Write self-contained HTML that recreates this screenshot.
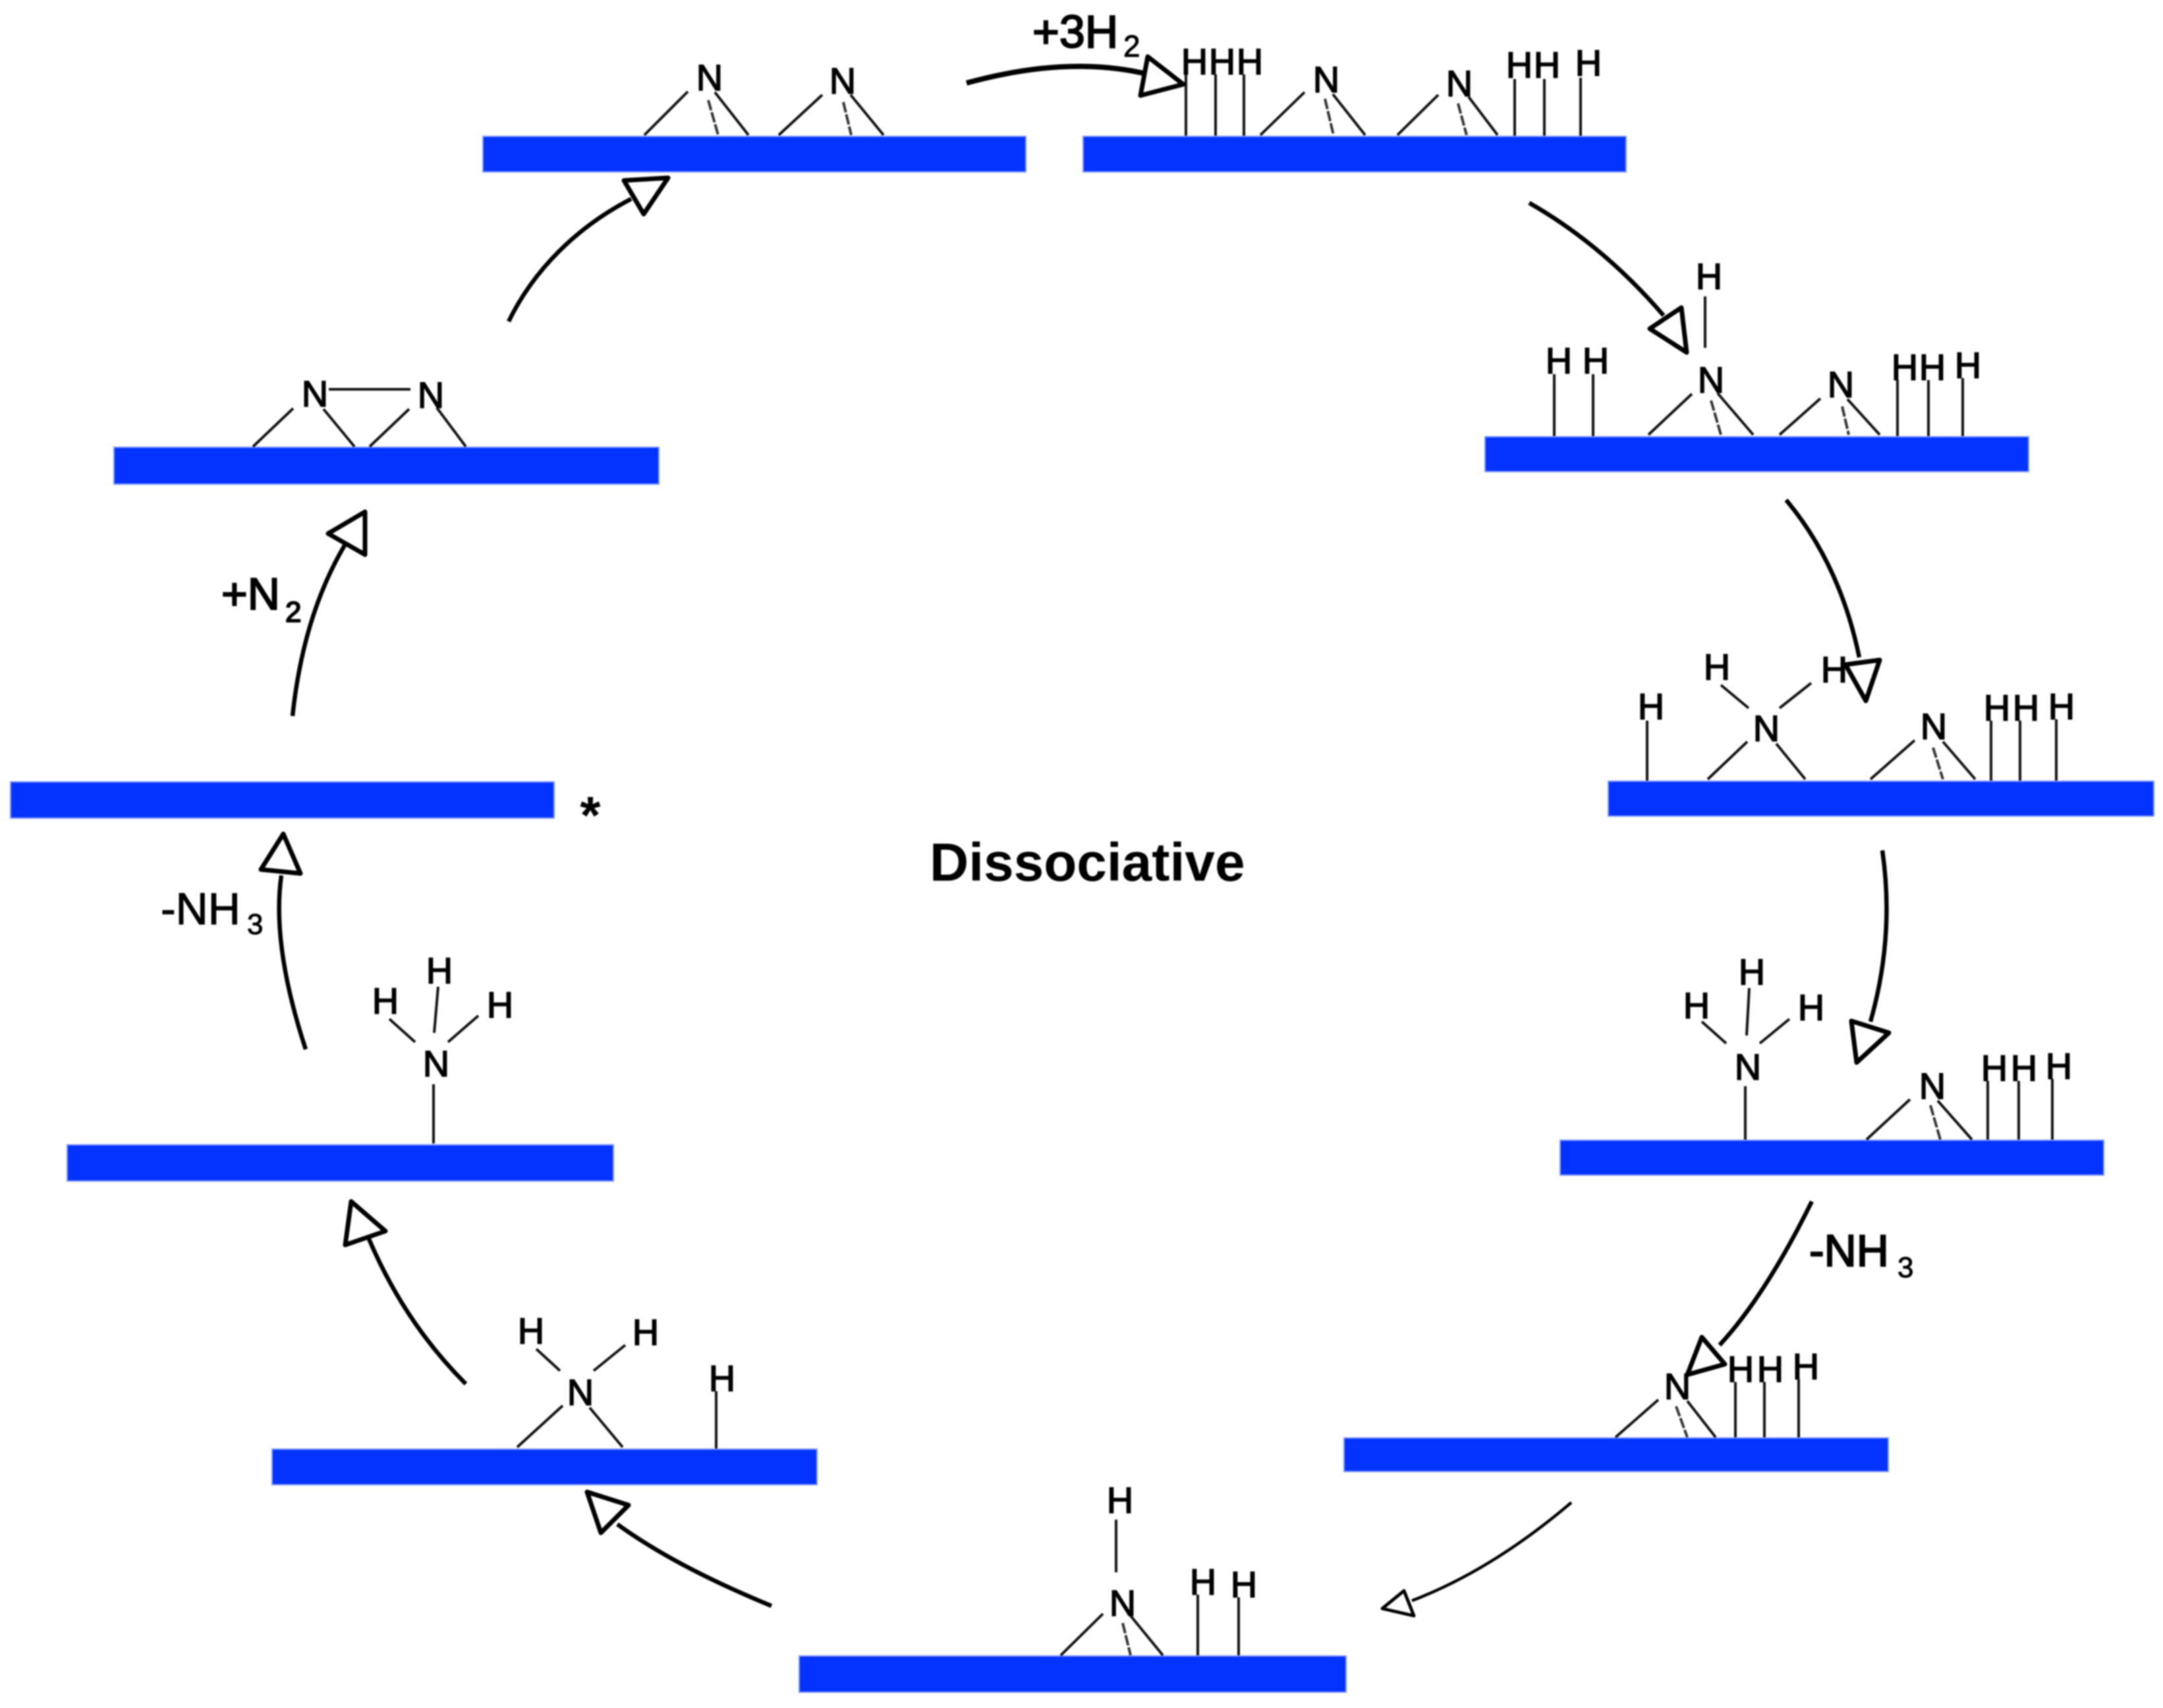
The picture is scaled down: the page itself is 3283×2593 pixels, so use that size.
<!DOCTYPE html>
<html>
<head>
<meta charset="utf-8">
<title>Dissociative</title>
<style>
html,body{margin:0;padding:0;background:#fff}
svg{display:block;filter:blur(1px)}
text{font-family:"Liberation Sans",sans-serif;fill:#000}
.a{font-size:56px;text-anchor:middle;stroke:#000;stroke-width:1.6}
.l{font-size:68px;stroke:#000;stroke-width:2.2}
.s{font-size:44px;stroke:#000;stroke-width:1}
.b rect{fill:#0433ff;stroke:#7f99ff;stroke-width:2}
.t line{stroke:#111;stroke-width:4;stroke-linecap:butt}
.d line{stroke:#333;stroke-width:4;stroke-dasharray:16 3}
.w path{fill:none;stroke:#000;stroke-width:6.5}
.w polygon{fill:#fff;stroke:#000;stroke-width:7;stroke-linejoin:round}
</style>
</head>
<body>
<svg width="3283" height="2593" viewBox="0 0 3283 2593" xmlns="http://www.w3.org/2000/svg">
<rect width="3283" height="2593" fill="#fff"/>

<!-- bars -->
<g class="b">
<rect x="733" y="207" width="824" height="54"/>
<rect x="1644" y="207" width="824" height="54"/>
<rect x="2254" y="663" width="825" height="53"/>
<rect x="2441" y="1186" width="828" height="53"/>
<rect x="2368" y="1731" width="825" height="53"/>
<rect x="2040" y="2183" width="826" height="51"/>
<rect x="1213" y="2514" width="830" height="55"/>
<rect x="413" y="2200" width="827" height="54"/>
<rect x="102" y="1738" width="829" height="55"/>
<rect x="16" y="1187" width="825" height="55"/>
<rect x="173" y="679" width="827" height="56"/>
</g>

<!-- bonds -->
<g class="t">
<!-- S1 -->
<line x1="1044" y1="139" x2="978" y2="205"/><line x1="1085" y1="140" x2="1136" y2="205"/>
<line x1="1248" y1="144" x2="1182" y2="205"/><line x1="1291" y1="144" x2="1341" y2="205"/>
<!-- S2 -->
<line x1="1800" y1="113" x2="1800" y2="206"/><line x1="1845" y1="113" x2="1845" y2="206"/><line x1="1888" y1="113" x2="1888" y2="206"/>
<line x1="1980" y1="140" x2="1913" y2="205"/><line x1="2023" y1="143" x2="2072" y2="205"/>
<line x1="2183" y1="144" x2="2121" y2="205"/><line x1="2229" y1="147" x2="2273" y2="205"/>
<line x1="2299" y1="120" x2="2299" y2="206"/><line x1="2344" y1="120" x2="2344" y2="206"/><line x1="2399" y1="118" x2="2399" y2="206"/>
<!-- S3 -->
<line x1="2588" y1="450" x2="2588" y2="528"/>
<line x1="2359" y1="568" x2="2359" y2="662"/><line x1="2418" y1="568" x2="2418" y2="662"/>
<line x1="2568" y1="598" x2="2502" y2="660"/><line x1="2607" y1="597" x2="2661" y2="660"/>
<line x1="2763" y1="605" x2="2701" y2="660"/><line x1="2804" y1="606" x2="2853" y2="660"/>
<line x1="2880" y1="577" x2="2880" y2="662"/><line x1="2927" y1="577" x2="2927" y2="662"/><line x1="2979" y1="574" x2="2979" y2="662"/>
<!-- S4 -->
<line x1="2500" y1="1094" x2="2500" y2="1185"/>
<line x1="2612" y1="1040" x2="2654" y2="1075"/><line x1="2749" y1="1037" x2="2701" y2="1075"/>
<line x1="2652" y1="1126" x2="2592" y2="1183"/><line x1="2696" y1="1129" x2="2740" y2="1183"/>
<line x1="2906" y1="1124" x2="2839" y2="1183"/><line x1="2949" y1="1126" x2="2998" y2="1183"/>
<line x1="3022" y1="1094" x2="3022" y2="1185"/><line x1="3066" y1="1094" x2="3066" y2="1185"/><line x1="3121" y1="1092" x2="3121" y2="1185"/>
<!-- S5 -->
<line x1="2649" y1="1649" x2="2649" y2="1730"/>
<line x1="2655" y1="1500" x2="2651" y2="1572"/><line x1="2583" y1="1551" x2="2620" y2="1584"/><line x1="2716" y1="1547" x2="2671" y2="1584"/>
<line x1="2899" y1="1669" x2="2833" y2="1730"/><line x1="2941" y1="1671" x2="2993" y2="1730"/>
<line x1="3017" y1="1641" x2="3017" y2="1730"/><line x1="3064" y1="1641" x2="3064" y2="1730"/><line x1="3115" y1="1638" x2="3115" y2="1730"/>
<!-- S6 -->
<line x1="2517" y1="2125" x2="2452" y2="2182"/><line x1="2561" y1="2127" x2="2604" y2="2182"/>
<line x1="2634" y1="2098" x2="2634" y2="2182"/><line x1="2678" y1="2098" x2="2678" y2="2182"/><line x1="2730" y1="2094" x2="2730" y2="2182"/>
<!-- S7 -->
<line x1="1694" y1="2307" x2="1694" y2="2387"/>
<line x1="1674" y1="2450" x2="1610" y2="2513"/><line x1="1716" y1="2453" x2="1765" y2="2513"/>
<line x1="1818" y1="2421" x2="1818" y2="2513"/><line x1="1880" y1="2425" x2="1880" y2="2513"/>
<!-- S8 -->
<line x1="854" y1="2134" x2="785" y2="2197"/><line x1="895" y1="2137" x2="945" y2="2197"/>
<line x1="814" y1="2048" x2="850" y2="2081"/><line x1="949" y1="2042" x2="901" y2="2081"/>
<line x1="1087" y1="2112" x2="1087" y2="2199"/>
<!-- S9 -->
<line x1="658" y1="1646" x2="658" y2="1736"/>
<line x1="665" y1="1498" x2="659" y2="1568"/><line x1="591" y1="1547" x2="630" y2="1582"/><line x1="726" y1="1542" x2="680" y2="1582"/>
<!-- S11 -->
<line x1="499" y1="591" x2="623" y2="591"/>
<line x1="445" y1="620" x2="384" y2="678"/><line x1="491" y1="621" x2="538" y2="678"/>
<line x1="621" y1="621" x2="561" y2="678"/><line x1="663" y1="619" x2="707" y2="678"/>
</g>

<!-- dashed bonds -->
<g class="d">
<line x1="1075" y1="152" x2="1090" y2="205"/><line x1="1280" y1="155" x2="1292" y2="205"/>
<line x1="2011" y1="150" x2="2024" y2="205"/><line x1="2213" y1="157" x2="2226" y2="205"/>
<line x1="2597" y1="608" x2="2612" y2="660"/><line x1="2796" y1="617" x2="2806" y2="660"/>
<line x1="2934" y1="1135" x2="2949" y2="1183"/>
<line x1="2930" y1="1678" x2="2945" y2="1730"/>
<line x1="2544" y1="2135" x2="2561" y2="2182"/>
<line x1="1704" y1="2464" x2="1716" y2="2513"/>
</g>

<!-- atoms -->
<g>
<!-- S1 -->
<text class="a" x="1077" y="137">N</text><text class="a" x="1279" y="142">N</text>
<!-- S2 -->
<text class="a" x="1813" y="113">H</text><text class="a" x="1855" y="113">H</text><text class="a" x="1897" y="113">H</text>
<text class="a" x="2013" y="140">N</text><text class="a" x="2215" y="146">N</text>
<text class="a" x="2306" y="118">H</text><text class="a" x="2348" y="118">H</text><text class="a" x="2411" y="115">H</text>
<!-- S3 -->
<text class="a" x="2594" y="439">H</text>
<text class="a" x="2366" y="567">H</text><text class="a" x="2422" y="567">H</text>
<text class="a" x="2597" y="596">N</text><text class="a" x="2794" y="603">N</text>
<text class="a" x="2891" y="577">H</text><text class="a" x="2933" y="577">H</text><text class="a" x="2987" y="574">H</text>
<!-- S4 -->
<text class="a" x="2506" y="1092">H</text><text class="a" x="2606" y="1032">H</text><text class="a" x="2784" y="1036">H</text>
<text class="a" x="2681" y="1125">N</text><text class="a" x="2935" y="1122">N</text>
<text class="a" x="3031" y="1094">H</text><text class="a" x="3075" y="1094">H</text><text class="a" x="3129" y="1092">H</text>
<!-- S5 -->
<text class="a" x="2659" y="1495">H</text><text class="a" x="2575" y="1546">H</text><text class="a" x="2749" y="1549">H</text>
<text class="a" x="2653" y="1639">N</text><text class="a" x="2933" y="1668">N</text>
<text class="a" x="3027" y="1641">H</text><text class="a" x="3072" y="1641">H</text><text class="a" x="3125" y="1638">H</text>
<!-- S6 -->
<text class="a" x="2546" y="2124">N</text>
<text class="a" x="2642" y="2098">H</text><text class="a" x="2687" y="2098">H</text><text class="a" x="2741" y="2094">H</text>
<!-- S7 -->
<text class="a" x="1700" y="2297">H</text><text class="a" x="1704" y="2453">N</text>
<text class="a" x="1826" y="2421">H</text><text class="a" x="1888" y="2425">H</text>
<!-- S8 -->
<text class="a" x="806" y="2040">H</text><text class="a" x="980" y="2042">H</text><text class="a" x="881" y="2133">N</text><text class="a" x="1096" y="2112">H</text>
<!-- S9 -->
<text class="a" x="667" y="1493">H</text><text class="a" x="585" y="1539">H</text><text class="a" x="759" y="1545">H</text><text class="a" x="662" y="1634">N</text>
<!-- S11 -->
<text class="a" x="478" y="617">N</text><text class="a" x="654" y="619">N</text>
</g>

<!-- arrows -->
<g class="w">
<path d="M1467 126Q1620 84 1739 112" style="stroke-width:8"/><polygon points="1742,86 1796,128 1731,145"/>
<path d="M2321 308Q2433 372 2525 479"/><polygon points="2552,467 2504,499 2560,535"/>
<path d="M2711 759Q2793 857 2822 998"/><polygon points="2853,1002 2801,1009 2832,1064"/>
<path d="M2857 1291Q2876 1421 2839 1551"/><polygon points="2810,1550 2867,1568 2818,1613"/>
<path d="M2750 1824Q2680 1966 2610 2042"/><polygon points="2583,2030 2618,2071 2561,2087"/>
<path d="M2385 2281Q2264 2384 2143 2430" style="stroke-width:4.5"/><polygon points="2131,2415 2098,2442 2146,2453" style="stroke-width:5"/>
<path d="M1171 2438Q1025 2378 937 2314"/><polygon points="891,2265 954,2285 912,2327"/>
<path d="M707 2101Q614 2008 560 1881"/><polygon points="533,1824 585,1869 524,1890"/>
<path d="M464 1593Q412 1435 427 1329"/><polygon points="430,1266 396,1320 456,1326"/>
<path d="M444 1087Q460 935 523 828"/><polygon points="554,777 498,810 554,842"/>
<path d="M772 488C810 410 875 345 958 302"/><polygon points="1014,270 947,274 977,325"/>
</g>

<!-- labels -->
<text x="1567" y="72" class="l" style="font-size:70px">+3H</text>
<text x="1705" y="86" class="s" style="font-size:46px">2</text>
<text x="2746" y="1922" class="l">-NH</text><text x="2880" y="1939" class="s">3</text>
<text x="244" y="1403" class="l" style="stroke-width:1.2">-NH</text><text x="375" y="1418" class="s">3</text>
<text x="336" y="925" class="l">+N</text><text x="433" y="944" class="s" style="stroke-width:2">2</text>
<text x="896" y="1265" style="font-size:80px;font-weight:bold;text-anchor:middle">*</text>
<text x="1411" y="1337" style="font-size:82px;font-weight:bold">Dissociative</text>
</svg>
</body>
</html>
